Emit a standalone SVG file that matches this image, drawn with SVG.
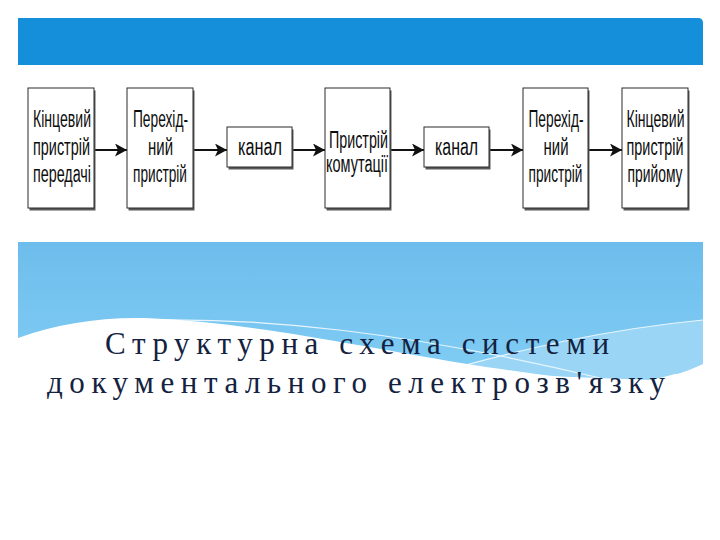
<svg xmlns="http://www.w3.org/2000/svg" width="720" height="540" viewBox="0 0 720 540">
  <defs>
    <marker id="arr" markerUnits="userSpaceOnUse" markerWidth="14" markerHeight="14" refX="12" refY="6.5" orient="auto">
      <path d="M0,0 L12,6.5 L0,13 L3,6.5 Z" fill="#111"/>
    </marker>
    <linearGradient id="sky" x1="0" y1="0" x2="0" y2="1">
      <stop offset="0" stop-color="#6dbdec"/>
      <stop offset="1" stop-color="#80ccf4"/>
    </linearGradient>
    <style>
      .shadow { fill: #5a5a5a; }
      .box { fill: #ffffff; stroke: #2a2a2a; stroke-width: 1; }
      .lbl { font-family: "Liberation Sans", Arial, sans-serif; font-size: 23px; fill: #0d0d0d; text-anchor: middle; }
      .title { font-family: "Liberation Serif", "Times New Roman", serif; font-size: 31px; fill: #14223f; }
      .conn { stroke: #111; stroke-width: 2; fill: none; marker-end: url(#arr); }
    </style>
  </defs>
  <rect x="0" y="0" width="720" height="540" fill="#ffffff"/>

  <!-- top header bar -->
  <path d="M18,18 H698 Q703,18 703,23 V65 H18 Z" fill="#168fdb"/>

  <!-- lower sky panel -->
  <g id="background">
    <rect x="18" y="242" width="685" height="132" fill="url(#sky)"/>
    <path d="M440,372 C520,350 600,330 703,320 L703,366 C690,370 670,376 650,380 Z" fill="#9ad5f6"/>
    <path d="M150,320 C260,318 400,330 600,378" fill="none" stroke="#e6f5fd" stroke-width="1.2"/>
    <path d="M440,372 C520,350 600,330 703,320" fill="none" stroke="#e6f5fd" stroke-width="1.2"/>
    <path d="M18,338 C55,324 100,317 145,318 C250,322 350,345 480,366 C560,378 610,384 650,380 C675,376 690,370 703,364 L703,400 L18,400 Z" fill="#ffffff"/>
  </g>

  <!-- connectors -->
  <g id="connectors">
    <line class="conn" x1="95" y1="150" x2="127" y2="150"/>
    <line class="conn" x1="194" y1="150" x2="227" y2="150"/>
    <line class="conn" x1="293" y1="150" x2="325" y2="150"/>
    <line class="conn" x1="391" y1="150" x2="424" y2="150"/>
    <line class="conn" x1="490" y1="150" x2="523" y2="150"/>
    <line class="conn" x1="589" y1="150" x2="622" y2="150"/>
  </g>

  <g id="n1">
    <rect class="shadow" x="29.5" y="90.5" width="66" height="120"/>
    <rect class="box" x="28" y="88" width="66" height="120"/>
    <text class="lbl" x="62" y="127" textLength="58" lengthAdjust="spacingAndGlyphs">Кінцевий</text>
    <text class="lbl" x="61.5" y="155" textLength="57" lengthAdjust="spacingAndGlyphs">пристрій</text>
    <text class="lbl" x="62" y="182" textLength="58" lengthAdjust="spacingAndGlyphs">передачі</text>
  </g>

  <g id="n2">
    <rect class="shadow" x="128.5" y="90.5" width="66" height="120"/>
    <rect class="box" x="127" y="88" width="66" height="120"/>
    <text class="lbl" x="160.5" y="127" textLength="55" lengthAdjust="spacingAndGlyphs">Перехід-</text>
    <text class="lbl" x="160.5" y="155" textLength="25" lengthAdjust="spacingAndGlyphs">ний</text>
    <text class="lbl" x="160" y="182" textLength="54" lengthAdjust="spacingAndGlyphs">пристрій</text>
  </g>

  <g id="n3">
    <rect class="shadow" x="228.5" y="129.5" width="65" height="40"/>
    <rect class="box" x="227" y="127" width="65" height="40"/>
    <text class="lbl" x="260" y="155" textLength="44" lengthAdjust="spacingAndGlyphs">канал</text>
  </g>

  <g id="n4">
    <rect class="shadow" x="326.5" y="90.5" width="65" height="120"/>
    <rect class="box" x="325" y="88" width="65" height="120"/>
    <text class="lbl" x="358.5" y="148" textLength="59" lengthAdjust="spacingAndGlyphs">Пристрій</text>
    <text class="lbl" x="357" y="172" textLength="62" lengthAdjust="spacingAndGlyphs">комутації</text>
  </g>

  <g id="n5">
    <rect class="shadow" x="425.5" y="129.5" width="65" height="40"/>
    <rect class="box" x="424" y="127" width="65" height="40"/>
    <text class="lbl" x="456.5" y="155" textLength="43" lengthAdjust="spacingAndGlyphs">канал</text>
  </g>

  <g id="n6">
    <rect class="shadow" x="524.5" y="90.5" width="65" height="120"/>
    <rect class="box" x="523" y="88" width="65" height="120"/>
    <text class="lbl" x="556" y="127" textLength="55" lengthAdjust="spacingAndGlyphs">Перехід-</text>
    <text class="lbl" x="556" y="155" textLength="25" lengthAdjust="spacingAndGlyphs">ний</text>
    <text class="lbl" x="555.5" y="182" textLength="54" lengthAdjust="spacingAndGlyphs">пристрій</text>
  </g>

  <g id="n7">
    <rect class="shadow" x="623.5" y="90.5" width="66" height="120"/>
    <rect class="box" x="622" y="88" width="66" height="120"/>
    <text class="lbl" x="655.5" y="127" textLength="58" lengthAdjust="spacingAndGlyphs">Кінцевий</text>
    <text class="lbl" x="655" y="155" textLength="57" lengthAdjust="spacingAndGlyphs">пристрій</text>
    <text class="lbl" x="655" y="182" textLength="55" lengthAdjust="spacingAndGlyphs">прийому</text>
  </g>

  <g id="title">
    <text class="title" x="105" y="354" textLength="504" lengthAdjust="spacing">Структурна схема системи</text>
    <text class="title" x="47" y="393" textLength="618" lengthAdjust="spacing">документального електрозв'язку</text>
  </g>
</svg>
